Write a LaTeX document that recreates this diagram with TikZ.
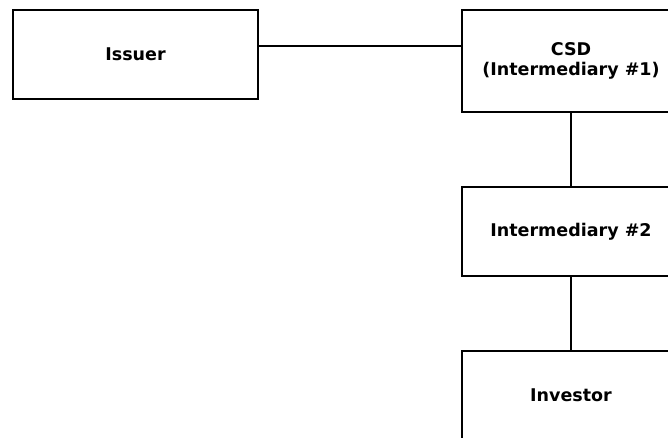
\documentclass[tikz,border=0pt]{standalone}
\usepackage{fontspec}
\setmainfont{DejaVu Sans}
\begin{document}
\begin{tikzpicture}[x=1pt,y=1pt,
  entity/.style={draw=black, line width=2.3pt, fill=white, rectangle, inner sep=0pt,
    font=\bfseries\fontsize{17.5}{20}\selectfont, align=center},
  link/.style={draw=black, line width=2.2pt}]
\useasboundingbox (0,0) rectangle (668,-437);
\node[entity, minimum width=245pt, minimum height=89pt] (issuer) at (135.5,-54.5) {Issuer};
\node[entity, minimum width=218pt, minimum height=102pt] (csd) at (571,-61) {CSD\\(Intermediary \#1)};
\node[entity, minimum width=218pt, minimum height=89pt] (int2) at (571,-231.5) {Intermediary \#2};
\node[entity, minimum width=218pt, minimum height=89pt] (investor) at (571,-395.5) {Investor};
\coordinate (j) at ([yshift=8.5pt]issuer.east);
\draw[link] (j) -- (j -| csd.west);
\draw[link] (csd) -- (int2);
\draw[link] (int2) -- (investor);
\end{tikzpicture}
\end{document}
